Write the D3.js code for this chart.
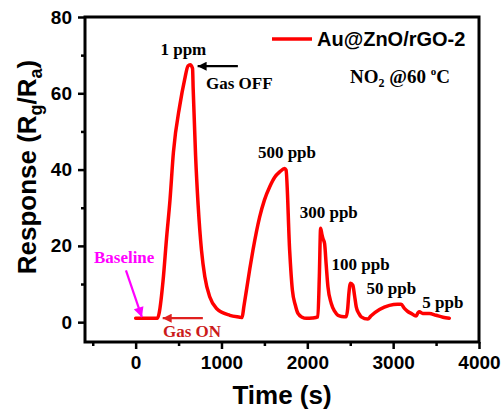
<!DOCTYPE html>
<html>
<head>
<meta charset="utf-8">
<script src="https://cdn.jsdelivr.net/npm/d3@7"></script>
<style>
  html, body { margin: 0; padding: 0; background: #fff; }
  svg { display: block; }
</style>
</head>
<body>
<svg id="chart" width="502" height="418"></svg>
<script>
// Dynamic response of the Au@ZnO/rGO-2 sensor to NO2 at 60 °C
const timeS = [0, 255, 275, 320, 360, 400, 440, 515, 570, 610, 635, 663, 670, 698, 728,
  767, 806, 864, 942, 1097, 1213, 1240, 1260, 1291, 1330, 1367, 1445, 1500, 1562, 1620,
  1678, 1736, 1752, 1794, 1826, 1860, 1891, 1940, 1988, 2060, 2123, 2140, 2155, 2170,
  2181, 2201, 2220, 2240, 2279, 2320, 2356, 2400, 2453, 2470, 2484, 2503, 2530, 2550,
  2570, 2600, 2628, 2705, 2740, 2841, 2957, 3050, 3093, 3131, 3170, 3209, 3267, 3290,
  3306, 3344, 3422, 3500, 3580, 3654];
const response = [1.0, 1.0, 2.5, 11, 22, 32, 44.5, 56.9, 63.5, 67.2, 67.5, 66.5, 61.3, 43.8, 30.7,
  18.9, 11.9, 6.6, 3.6, 1.8, 1.3, 1.2, 4, 8.4, 14, 18.9, 27.6, 32, 35.5, 38,
  39.4, 40.3, 39.9, 18.9, 8.4, 4.5, 2.3, 1.3, 1.0, 1.1, 1.4, 12, 24.6, 23,
  22, 20.6, 15, 9.3, 4.9, 2.8, 1.8, 1.5, 1.4, 3.5, 7.5, 10.2, 9.7, 7,
  4.0, 2.3, 1.4, 0.8, 1.6, 3.3, 4.4, 4.7, 4.7, 3.6, 2.8, 2.3, 1.6, 2.5,
  2.7, 2.3, 2.3, 1.8, 1.3, 1.0];

const xTicks = [0, 1000, 2000, 3000, 4000];
const xMinorTicks = [-500, 500, 1500, 2500, 3500];
const yTicks = [0, 20, 40, 60, 80];
const yMinorTicks = [10, 30, 50, 70];

const seriesName = "Au@ZnO/rGO-2";

// concentration labels (time, response) of each gas pulse
const concLabels = ["1 ppm", "500 ppb", "300 ppb", "100 ppb", "50 ppb", "5 ppb"];
const concLabelT = [556, 1424, 1911, 2283, 2690, 3340];
const concLabelV = [70.0, 43.0, 27.2, 13.6, 7.5, 3.6];
const concAnchor = ["middle", "start", "start", "start", "start", "start"];

const sans = "'Liberation Sans', Arial, Helvetica, sans-serif";
const serif = "'Liberation Serif', 'Times New Roman', Times, serif";

const svg = d3.select("#chart");
const plotL = 85, plotR = 479, plotT = 17, plotB = 342;

const x = d3.scaleLinear().domain([-590, 4000]).range([plotL, plotR]);
const y = d3.scaleLinear().domain([-5.2, 80]).range([plotB, plotT]);

// defs: arrow heads
const defs = svg.append("defs");
function marker(id, color, w, h) {
  defs.append("marker")
    .attr("id", id)
    .attr("viewBox", "0 0 10 10")
    .attr("refX", 10).attr("refY", 5)
    .attr("markerWidth", w).attr("markerHeight", h)
    .attr("markerUnits", "userSpaceOnUse")
    .attr("orient", "auto")
    .append("path").attr("d", "M0,0 L10,5 L0,10 Z").attr("fill", color);
}
marker("arrBlack", "#000", 12, 9);
marker("arrRed", "#e0201f", 12, 9);
marker("arrMag", "#ff00ff", 11, 10);

// axes
const axisFont = g => g.selectAll("text")
  .attr("font-family", sans).attr("font-weight", "bold")
  .attr("font-size", 19).attr("fill", "#000");

const gx = svg.append("g").attr("transform", `translate(0,${plotB})`)
  .call(d3.axisBottom(x).tickValues(xTicks).tickSize(7).tickPadding(7).tickFormat(d3.format("d")));
gx.call(axisFont);
gx.selectAll("line").attr("stroke", "#000").attr("stroke-width", 2.5);
gx.select(".domain").remove();

svg.append("g").attr("transform", `translate(0,${plotB})`)
  .call(d3.axisBottom(x).tickValues(xMinorTicks).tickSize(4).tickFormat(""))
  .call(g => g.select(".domain").remove())
  .selectAll("line").attr("stroke", "#000").attr("stroke-width", 2.5);

const gy = svg.append("g").attr("transform", `translate(${plotL},0)`)
  .call(d3.axisLeft(y).tickValues(yTicks).tickSize(7).tickPadding(6));
gy.call(axisFont);
gy.selectAll("line").attr("stroke", "#000").attr("stroke-width", 2.5);
gy.select(".domain").remove();

svg.append("g").attr("transform", `translate(${plotL},0)`)
  .call(d3.axisLeft(y).tickValues(yMinorTicks).tickSize(4).tickFormat(""))
  .call(g => g.select(".domain").remove())
  .selectAll("line").attr("stroke", "#000").attr("stroke-width", 2.5);

// frame
svg.append("rect")
  .attr("x", plotL).attr("y", plotT)
  .attr("width", plotR - plotL).attr("height", plotB - plotT)
  .attr("fill", "none").attr("stroke", "#000").attr("stroke-width", 3);

// response curve
const pts = timeS.map((t, i) => [t, response[i]]);
const line = d3.line().x(d => x(d[0])).y(d => y(d[1])).curve(d3.curveMonotoneX);
svg.append("path").datum(pts)
  .attr("d", line)
  .attr("fill", "none").attr("stroke", "#ff0000")
  .attr("stroke-width", 3.5).attr("stroke-linejoin", "round").attr("stroke-linecap", "round");

// axis titles
svg.append("text")
  .attr("x", 282).attr("y", 404)
  .attr("text-anchor", "middle")
  .attr("font-family", sans).attr("font-weight", "bold").attr("font-size", 26)
  .text("Time (s)");

const yt = svg.append("text")
  .attr("transform", "translate(36,167) rotate(-90)")
  .attr("text-anchor", "middle")
  .attr("font-family", sans).attr("font-weight", "bold").attr("font-size", 26);
yt.append("tspan").text("Response (R");
yt.append("tspan").attr("font-size", 18).attr("dy", 6).text("g");
yt.append("tspan").attr("dy", -6).text("/R");
yt.append("tspan").attr("font-size", 18).attr("dy", 6).text("a");
yt.append("tspan").attr("dy", -6).text(")");

// legend
svg.append("line")
  .attr("x1", 272).attr("x2", 312).attr("y1", 39).attr("y2", 39)
  .attr("stroke", "#ff0000").attr("stroke-width", 3.5);
svg.append("text")
  .attr("x", 317).attr("y", 46)
  .attr("font-family", sans).attr("font-weight", "bold").attr("font-size", 20)
  .text(seriesName);

// condition label
const cond = svg.append("text")
  .attr("x", 350).attr("y", 83)
  .attr("font-family", serif).attr("font-weight", "bold").attr("font-size", 19);
cond.append("tspan").text("NO");
cond.append("tspan").attr("font-size", 12).attr("dy", 4).text("2");
cond.append("tspan").attr("dy", -4).text(" @60 ");
cond.append("tspan").attr("font-size", 11).attr("dy", -8).text("o");
cond.append("tspan").attr("dy", 8).text("C");

// concentration labels
svg.append("g").selectAll("text")
  .data(concLabels)
  .join("text")
  .attr("x", (d, i) => x(concLabelT[i]))
  .attr("y", (d, i) => y(concLabelV[i]))
  .attr("text-anchor", (d, i) => concAnchor[i])
  .attr("font-family", serif).attr("font-weight", "bold").attr("font-size", 17)
  .text(d => d);

// Gas OFF marker
svg.append("line")
  .attr("x1", x(1191)).attr("y1", y(67.1))
  .attr("x2", x(722)).attr("y2", y(67.1))
  .attr("stroke", "#000").attr("stroke-width", 2.2)
  .attr("marker-end", "url(#arrBlack)");
svg.append("text")
  .attr("x", x(820)).attr("y", y(61))
  .attr("font-family", serif).attr("font-weight", "bold").attr("font-size", 17)
  .text("Gas OFF");

// Gas ON marker
svg.append("line")
  .attr("x1", x(783)).attr("y1", y(1.05))
  .attr("x2", x(315)).attr("y2", y(1.05))
  .attr("stroke", "#e0201f").attr("stroke-width", 2.2)
  .attr("marker-end", "url(#arrRed)");
svg.append("text")
  .attr("x", x(318)).attr("y", y(-3.85))
  .attr("font-family", serif).attr("font-weight", "bold").attr("font-size", 17)
  .attr("fill", "#cc1a1a")
  .text("Gas ON");

// Baseline marker
svg.append("line")
  .attr("x1", x(-113)).attr("y1", y(13.6))
  .attr("x2", x(73)).attr("y2", y(1.3))
  .attr("stroke", "#ff00ff").attr("stroke-width", 2.2)
  .attr("marker-end", "url(#arrMag)");
svg.append("text")
  .attr("x", x(-486)).attr("y", y(15.4))
  .attr("font-family", serif).attr("font-weight", "bold").attr("font-size", 17)
  .attr("fill", "#ff00ff")
  .text("Baseline");
</script>
</body>
</html>
